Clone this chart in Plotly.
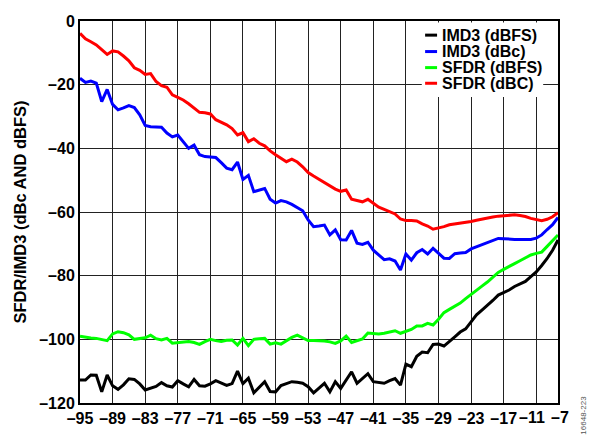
import plotly.graph_objects as go

# Input level (dBFS), 1 dB steps
input_level = list(range(-95, -6))

sfdr_dbc = [
    -3.9, -5.6, -6.5, -7.5, -9.0, -10.5, -9.4, -9.7, -11.0, -12.5,
    -14.7, -15.5, -16.8, -16.5, -19.0, -20.3, -20.8, -23.2, -24.0, -24.8,
    -26.0, -27.5, -28.7, -28.8, -29.2, -31.0, -31.7, -32.6, -33.8, -35.8,
    -35.1, -37.9, -37.0, -38.4, -39.2, -40.8, -42.0, -43.2, -44.2, -43.4,
    -44.3, -45.8, -47.6, -48.7, -49.7, -50.9, -51.8, -52.8, -53.5, -53.1,
    -56.0, -56.4, -56.8, -56.0, -57.3, -58.5, -59.2, -59.9, -60.6, -62.2,
    -62.7, -62.7, -62.8, -63.7, -64.4, -65.4, -65.1, -64.6, -64.0, -63.8,
    -63.6, -63.3, -63.0, -62.6, -62.2, -61.9, -61.6, -61.3, -61.1, -60.9,
    -60.9, -61.1, -61.4, -62.0, -62.4, -62.7, -62.3, -61.5, -60.2,
]

imd3_dbc = [
    -18.0, -19.3, -18.9, -19.5, -25.3, -21.5, -26.2, -27.9, -27.3, -26.6,
    -27.2, -29.5, -32.8, -33.2, -33.3, -33.4, -35.2, -36.4, -35.8, -37.8,
    -40.0, -39.0, -42.0, -42.6, -42.8, -42.9, -44.5, -46.2, -46.7, -44.3,
    -49.8, -48.5, -53.6, -53.0, -52.6, -56.0, -57.2, -56.4, -56.8, -57.6,
    -58.6, -59.6, -62.5, -64.6, -64.4, -64.1, -67.2, -65.6, -68.7, -68.8,
    -65.8, -69.8, -70.2, -69.5, -72.0, -73.5, -75.0, -74.7, -75.4, -78.2,
    -73.2, -75.1, -72.8, -71.8, -73.2, -71.4, -73.0, -74.5, -74.6, -73.1,
    -72.9, -72.7, -71.6, -70.9, -70.3, -69.6, -69.0, -68.3, -68.4, -68.6,
    -68.6, -68.6, -68.6, -68.6, -68.2, -67.2, -65.5, -64.0, -61.7,
]

sfdr_dbfs = [
    -99.0, -99.4, -99.6, -99.7, -100.0, -100.4, -98.3, -97.6, -97.9, -98.6,
    -100.0, -99.7, -99.5, -98.7, -99.8, -100.2, -99.7, -101.2, -101.0, -100.8,
    -100.7, -101.0, -101.6, -100.7, -100.0, -100.4, -100.7, -100.3, -100.2, -101.8,
    -99.7, -102.0, -100.0, -99.8, -99.7, -101.5, -101.1, -101.5, -100.4, -99.4,
    -98.7, -99.6, -100.4, -100.4, -100.4, -100.5, -100.8, -101.3, -100.5, -99.0,
    -101.0, -100.4, -99.9, -98.0, -98.2, -98.3, -98.1, -97.7, -97.3, -98.1,
    -97.6, -96.9, -95.8, -95.8, -95.0, -95.5, -93.7, -91.6, -90.6, -89.6,
    -88.6, -87.2, -85.8, -84.5, -83.3, -82.0, -80.6, -79.0, -78.0, -77.0,
    -76.2, -75.3, -74.4, -73.5, -73.0, -72.6, -70.8, -69.0, -67.2,
]

imd3_dbfs = [
    -112.8, -112.8, -111.2, -111.3, -116.5, -111.2, -114.6, -115.7, -114.3, -112.4,
    -112.6, -114.0, -115.9, -115.4, -114.8, -113.6, -114.6, -115.0, -113.0, -114.0,
    -114.9, -112.6, -114.6, -114.7, -114.0, -113.0, -113.8, -114.5, -113.9, -110.0,
    -113.9, -112.2, -116.8, -115.2, -113.3, -116.4, -116.5, -114.5, -113.8, -113.3,
    -113.5, -113.8, -114.9, -116.8, -115.3, -113.8, -116.5, -113.3, -115.4, -113.0,
    -110.2, -113.8, -112.3, -110.8, -113.3, -113.6, -113.8, -113.0, -112.3, -114.4,
    -107.8, -108.6, -105.3, -104.0, -104.2, -101.6, -101.5, -102.1, -100.8, -99.2,
    -97.7, -96.7, -94.5, -92.3, -90.8, -89.4, -87.8, -86.1, -85.3, -84.5,
    -83.4, -82.6, -81.8, -80.3, -78.8, -76.8, -74.6, -72.0, -68.8,
]

x_ticks = [-95, -89, -83, -77, -71, -65, -59, -53, -47, -41, -35, -29, -23, -17, -11, -7]
y_ticks = [0, -20, -40, -60, -80, -100, -120]

series_names = ["IMD3 (dBFS)", "IMD3 (dBc)", "SFDR (dBFS)", "SFDR (dBC)"]
series_colors = ["#000000", "#0000ff", "#00ff00", "#ff0000"]
series_values = [imd3_dbfs, imd3_dbc, sfdr_dbfs, sfdr_dbc]


def dash_label(v):
    return str(v).replace("-", "\u2013")


# The last two ticks are only 4 dB apart; their labels are placed separately
# with a small sideways offset so they don't collide.
crowded_ticks = {-11: -4.5, -7: 1.5}
x_ticktext = ["" if v in crowded_ticks else dash_label(v) for v in x_ticks]

FONT = "Arial, 'Liberation Sans', sans-serif"
BOLD16 = dict(family=FONT, size=16, weight=700, color="black")

fig = go.Figure()
for name, values, color in zip(series_names, series_values, series_colors):
    fig.add_trace(go.Scatter(
        x=input_level, y=values, name=name, mode="lines",
        line=dict(color=color, width=3), showlegend=False,
    ))

fig.update_layout(
    width=589, height=439,
    margin=dict(l=80, r=31, t=21, b=36),
    paper_bgcolor="white", plot_bgcolor="white",
    font=BOLD16,
)

fig.update_xaxes(
    range=[-95, -7], tickvals=x_ticks, ticktext=x_ticktext,
    tickangle=0,
    showgrid=True, gridcolor="#222222", gridwidth=1.3,
    showline=True, linecolor="black", linewidth=2, mirror=True,
    ticks="", zeroline=False, tickfont=BOLD16,
)
fig.update_yaxes(
    range=[-120, 0], tickvals=y_ticks, ticktext=[dash_label(v) for v in y_ticks],
    showgrid=True, gridcolor="#222222", gridwidth=1.3,
    showline=True, linecolor="black", linewidth=2, mirror=True,
    ticks="", zeroline=False, tickfont=BOLD16,
    title=dict(text="SFDR/IMD3 (dBc AND dBFS)", standoff=8,
               font=dict(family=FONT, size=16.5, weight=700, color="black")),
)

for v, shift in crowded_ticks.items():
    fig.add_annotation(text=dash_label(v), xref="x", yref="paper",
                       x=v, y=0, xanchor="center", yanchor="top",
                       xshift=shift, yshift=-4, showarrow=False, font=BOLD16)

# Compact legend block in the upper-right corner of the plot area
legend_x0, legend_x1 = 0.715, 0.969
legend_y0, legend_y1 = 0.801, 0.996
row_y = [0.963, 0.920, 0.878, 0.837]
fig.add_shape(type="rect", xref="paper", yref="paper",
              x0=legend_x0, x1=legend_x1, y0=legend_y0, y1=legend_y1,
              fillcolor="white", line=dict(width=0), layer="above")
for name, color, yy in zip(series_names, series_colors, row_y):
    fig.add_shape(type="line", xref="paper", yref="paper",
                  x0=0.722, x1=0.747, y0=yy, y1=yy,
                  line=dict(color=color, width=3), layer="above")
    fig.add_annotation(text=name, xref="paper", yref="paper",
                       x=0.753, y=yy, xanchor="left", yanchor="middle",
                       showarrow=False, font=BOLD16)

fig.add_annotation(
    text="16648-223", xref="paper", yref="paper",
    x=1.054, y=-0.031, xanchor="center", yanchor="middle",
    textangle=-90, showarrow=False,
    font=dict(family=FONT, size=8, color="#555555", weight=400),
)

fig.write_html("out.html")
